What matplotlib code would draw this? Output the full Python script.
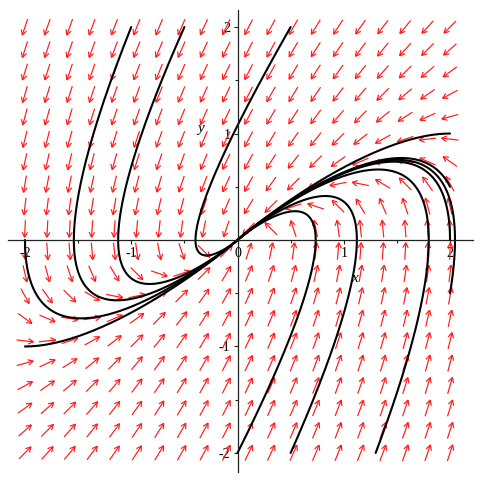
import numpy as np
import matplotlib
matplotlib.use("Agg")
import matplotlib.pyplot as plt
from matplotlib.collections import LineCollection

# Linear system  x' = a*x + b*y ,  y' = c*x + d*y  (read from the arrow field)
sys_a, sys_b = 0.0, -1.0
sys_c, sys_d = 1.0, -2.0

# initial conditions of the drawn solution curves
ic_x = [2.0, 2.0, 2.0, 2.0, 0.0, 0.5, 1.3, -1.0, -0.5, 0.5, -2.0, -2.0]
ic_y = [1.0, 0.5, 0.0, -0.5, -2.0, -2.0, -2.0, 2.0, 2.0, 2.0, 0.0, -1.0]

# direction-field grid
grid_n = 20
grid_lo, grid_hi = -2.0, 2.0

x_ticks = [-2, -1, 0, 1, 2]
y_ticks = [-2, -1, 1, 2]


def field(x, y):
    return sys_a * x + sys_b * y, sys_c * x + sys_d * y


def integrate(x0, y0, dt=0.01, T=25.0):
    xs, ys = [x0], [y0]
    x, y = x0, y0
    for _ in range(int(T / dt)):
        k1 = field(x, y)
        k2 = field(x + dt / 2 * k1[0], y + dt / 2 * k1[1])
        k3 = field(x + dt / 2 * k2[0], y + dt / 2 * k2[1])
        k4 = field(x + dt * k3[0], y + dt * k3[1])
        x += dt / 6 * (k1[0] + 2 * k2[0] + 2 * k3[0] + k4[0])
        y += dt / 6 * (k1[1] + 2 * k2[1] + 2 * k3[1] + k4[1])
        xs.append(x)
        ys.append(y)
    return np.array(xs), np.array(ys)


fig = plt.figure(figsize=(4.8, 4.8), dpi=100)
ax = fig.add_axes([0, 0, 1, 1])
ax.set_xlim(-2.235, 2.282)
ax.set_ylim(-2.254, 2.254)

# direction field arrows (Maple-style line arrows, centered on grid points)
gx = np.linspace(grid_lo, grid_hi, grid_n)
gy = np.linspace(grid_lo, grid_hi, grid_n)
L = 0.16
head = 0.055
ang = np.deg2rad(28)
segs = []
for xv in gx:
    for yv in gy:
        u, v = field(xv, yv)
        n = np.hypot(u, v)
        if n == 0:
            continue
        u, v = u / n, v / n
        p0 = (xv - u * L / 2, yv - v * L / 2)
        p1 = (xv + u * L / 2, yv + v * L / 2)
        segs.append([p0, p1])
        for s in (ang, -ang):
            ca, sa = np.cos(s), np.sin(s)
            bx = -(u * ca - v * sa)
            by = -(u * sa + v * ca)
            segs.append([p1, (p1[0] + bx * head, p1[1] + by * head)])
ax.add_collection(LineCollection(segs, colors="#ff1a1a", linewidths=0.85, zorder=2))

# solution curves
for x0, y0 in zip(ic_x, ic_y):
    xs, ys = integrate(x0, y0)
    ax.plot(xs, ys, color="black", lw=1.5, zorder=3, solid_capstyle="round")

# axes through the origin
for s in ["top", "right"]:
    ax.spines[s].set_visible(False)
ax.spines["left"].set_position(("data", 0))
ax.spines["bottom"].set_position(("data", 0))
ax.spines["bottom"].set_bounds(-2.16, 2.22)
ax.spines["left"].set_bounds(-2.18, 2.16)
for s in ["left", "bottom"]:
    ax.spines[s].set_color("#222222")
    ax.spines[s].set_linewidth(0.9)
    ax.spines[s].set_zorder(4)

ax.set_xticks(x_ticks)
ax.set_yticks(y_ticks)
ax.set_xticks(np.arange(-2, 2.01, 0.5), minor=True)
ax.set_yticks(np.arange(-2, 2.01, 0.5), minor=True)
ax.set_xticklabels([str(t) for t in x_ticks])
ax.set_yticklabels([str(t) for t in y_ticks])
ax.tick_params(axis="both", which="major", direction="out", length=3, width=0.8,
               color="#222222", labelsize=10, pad=2)
ax.tick_params(axis="both", which="minor", direction="out", length=2, width=0.8,
               color="#222222")
for lab in ax.get_xticklabels() + ax.get_yticklabels():
    lab.set_family("Liberation Serif")

ax.text(1.1, -0.36, "x", fontsize=11, family="Liberation Serif", style="italic",
        ha="center", va="center")
ax.text(-0.35, 1.05, "y", fontsize=11, family="Liberation Serif", style="italic",
        ha="center", va="center")

fig.savefig("out.png", dpi=100)
